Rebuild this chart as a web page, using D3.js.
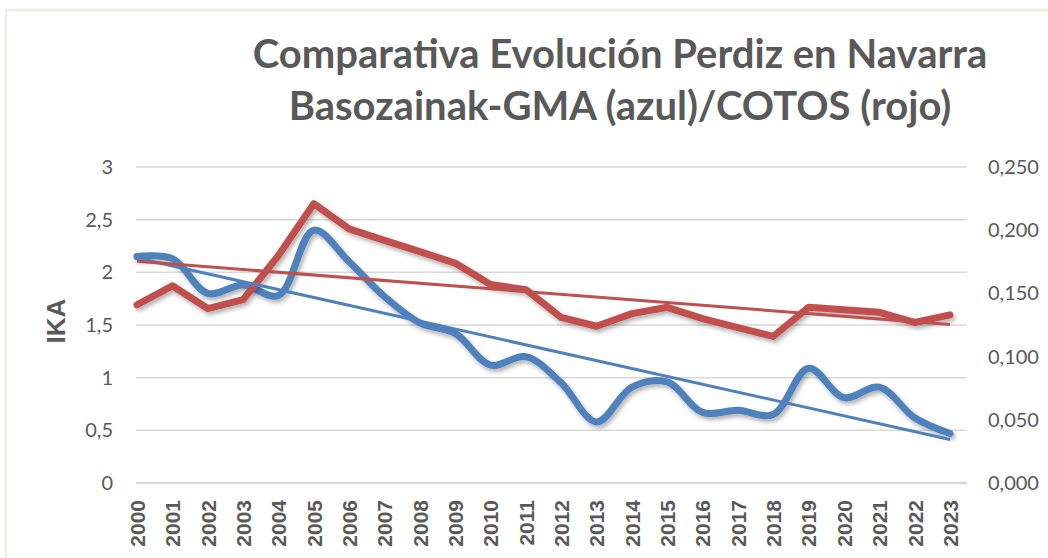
<!DOCTYPE html>
<html>
<head>
<meta charset="utf-8">
<script src="https://cdn.jsdelivr.net/npm/d3@7"></script>
<style>
  body { margin: 0; background: #fff; }
  svg { display: block; }
</style>
</head>
<body>
<div id="chart"></div>
<script>
// data
var years = ["2000","2001","2002","2003","2004","2005","2006","2007","2008","2009","2010","2011",
             "2012","2013","2014","2015","2016","2017","2018","2019","2020","2021","2022","2023"];
// Basozainak-GMA (azul), eje izquierdo IKA
var gma = [2.15, 2.13, 1.80, 1.88, 1.78, 2.40, 2.10, 1.77, 1.52, 1.42, 1.12, 1.20,
           0.95, 0.58, 0.91, 0.96, 0.67, 0.69, 0.65, 1.09, 0.81, 0.91, 0.62, 0.47];
// COTOS (rojo), eje derecho
var cotos = [0.141, 0.156, 0.138, 0.145, 0.180, 0.221, 0.201, 0.192, 0.183, 0.174, 0.157, 0.153,
             0.131, 0.124, 0.134, 0.139, 0.130, 0.123, 0.116, 0.139, 0.137, 0.135, 0.127, 0.133];
var leftTicks = [0, 0.5, 1, 1.5, 2, 2.5, 3];
var rightTicks = [0, 0.05, 0.1, 0.15, 0.2, 0.25];

var W = 1048, H = 558;
var blue = "#4f81bd", red = "#c0504d", grey = "#595959";

var svg = d3.select("#chart").append("svg")
    .attr("width", W)
    .attr("height", H);

// drop shadow like excel
var f = svg.append("defs").append("filter")
    .attr("id", "shadow")
    .attr("x", "-10%").attr("y", "-10%").attr("width", "120%").attr("height", "130%");
f.append("feDropShadow")
    .attr("dx", 2).attr("dy", 3).attr("stdDeviation", 2)
    .attr("flood-color", "#000").attr("flood-opacity", 0.3);

// chart border
svg.append("path")
    .attr("d", "M6," + H + "V10H" + W)
    .attr("fill", "none")
    .attr("stroke", "#eeebe0")
    .attr("stroke-width", 2.5);

// title
var title = svg.append("text")
    .attr("text-anchor", "middle")
    .style("font-family", "Lato, 'Open Sans', sans-serif")
    .style("font-weight", 700)
    .style("font-size", "40px")
    .attr("fill", grey);
title.append("tspan").attr("x", 620).attr("y", 68).text("Comparativa Evolución Perdiz en Navarra");
title.append("tspan").attr("x", 620).attr("y", 120).text("Basozainak-GMA (azul)/COTOS (rojo)");

// scales
var x = d3.scalePoint().domain(years).range([137, 950]);
var yL = d3.scaleLinear().domain([0, 3]).range([483, 167]);
var yR = d3.scaleLinear().domain([0, 0.25]).range([483, 167]);

// gridlines
svg.append("g").selectAll("line")
    .data(leftTicks.slice(1))
    .enter().append("line")
    .attr("x1", 136).attr("x2", 967)
    .attr("y1", d => yL(d)).attr("y2", d => yL(d))
    .attr("stroke", "#d9d9d9")
    .attr("stroke-width", 1.5);
svg.append("line")
    .attr("x1", 136).attr("x2", 967)
    .attr("y1", yL(0)).attr("y2", yL(0))
    .attr("stroke", "#d9d9d9")
    .attr("stroke-width", 2.5);

var comma = d => String(d).replace(".", ",");

// left axis
var gL = svg.append("g")
    .attr("transform", "translate(116,0)")
    .call(d3.axisLeft(yL).tickValues(leftTicks).tickSize(0).tickPadding(3).tickFormat(comma));
gL.select(".domain").remove();
gL.selectAll("text")
    .style("font-family", "Lato, sans-serif")
    .style("font-size", "20px")
    .attr("fill", grey);

// right axis
var gR = svg.append("g")
    .attr("transform", "translate(985,0)")
    .call(d3.axisRight(yR).tickValues(rightTicks).tickSize(0).tickPadding(3)
        .tickFormat(d => d3.format(".3f")(d).replace(".", ",")));
gR.select(".domain").remove();
gR.selectAll("text")
    .style("font-family", "Lato, sans-serif")
    .style("font-size", "20px")
    .attr("fill", grey);

// x axis, vertical labels
var gX = svg.append("g")
    .attr("transform", "translate(0,483)")
    .call(d3.axisBottom(x).tickSize(0));
gX.select(".domain").remove();
gX.selectAll("text")
    .attr("transform", "rotate(-90)")
    .attr("x", -17)
    .attr("y", 0)
    .attr("dy", "0.35em")
    .attr("text-anchor", "end")
    .style("font-family", "'Liberation Sans', Arial, sans-serif")
    .style("font-weight", 700)
    .style("font-size", "21px")
    .attr("fill", grey);

// y title
svg.append("text")
    .attr("transform", "translate(56,321) rotate(-90)")
    .attr("text-anchor", "middle")
    .attr("dy", "0.35em")
    .style("font-family", "'Liberation Sans', Arial, sans-serif")
    .style("font-weight", 700)
    .style("font-size", "26px")
    .attr("fill", grey)
    .text("IKA");

// linear trend (least squares)
function trend(vals) {
    var n = vals.length, mx = (n - 1) / 2, my = d3.mean(vals);
    var sxy = d3.sum(vals, (v, i) => (i - mx) * (v - my));
    var sxx = d3.sum(vals, (v, i) => (i - mx) * (i - mx));
    var b = sxy / sxx, a = my - b * mx;
    return [a, a + b * (n - 1)];
}

var lineBlue = d3.line()
    .x((d, i) => x(years[i]))
    .y(d => yL(d))
    .curve(d3.curveCatmullRom.alpha(0.5));
var lineRed = d3.line()
    .x((d, i) => x(years[i]))
    .y(d => yR(d));

svg.append("path")
    .datum(gma)
    .attr("d", lineBlue)
    .attr("fill", "none")
    .attr("stroke", blue)
    .attr("stroke-width", 7)
    .attr("stroke-linecap", "round")
    .attr("stroke-linejoin", "round")
    .attr("filter", "url(#shadow)");

svg.append("path")
    .datum(cotos)
    .attr("d", lineRed)
    .attr("fill", "none")
    .attr("stroke", red)
    .attr("stroke-width", 7)
    .attr("stroke-linecap", "round")
    .attr("stroke-linejoin", "round")
    .attr("filter", "url(#shadow)");

var tb = trend(gma), tr = trend(cotos);
svg.append("line")
    .attr("x1", x(years[0])).attr("x2", x(years[years.length - 1]))
    .attr("y1", yL(tb[0])).attr("y2", yL(tb[1]))
    .attr("stroke", blue)
    .attr("stroke-width", 3);
svg.append("line")
    .attr("x1", x(years[0])).attr("x2", x(years[years.length - 1]))
    .attr("y1", yR(tr[0])).attr("y2", yR(tr[1]))
    .attr("stroke", red)
    .attr("stroke-width", 3);
</script>
</body>
</html>
